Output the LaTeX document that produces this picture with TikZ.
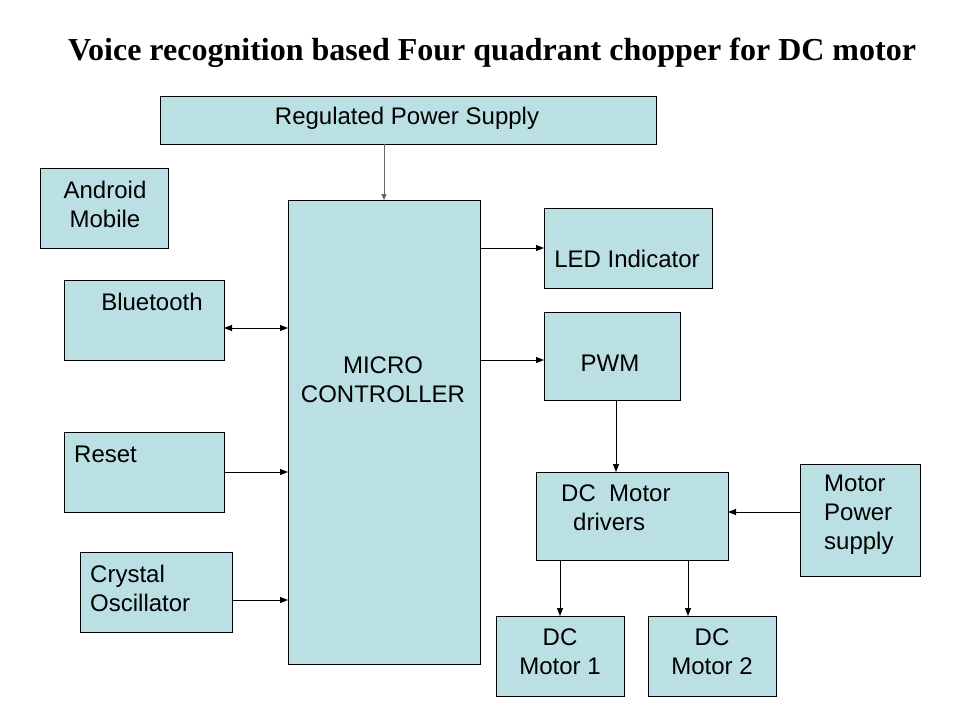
\documentclass[tikz,border=0pt]{standalone}
\usepackage{fontspec}
\setmainfont{Liberation Sans}
\newfontfamily\titlefont{Liberation Serif}
\usetikzlibrary{arrows.meta}
\definecolor{boxfill}{RGB}{187,224,227}
\tikzset{
  blk/.style={draw=black, line width=0.9pt, fill=boxfill, anchor=north west, inner sep=0pt, outer sep=0pt},
  txt/.style={inner sep=0pt, font=\fontsize{24}{29}\selectfont},
  arr/.style={line width=0.9pt, -{Triangle[length=8pt,width=6pt]}},
  arrs/.style={line width=0.9pt, {Triangle[length=8pt,width=6pt]}-{Triangle[length=8pt,width=6pt]}},
  garr/.style={draw=black!60, line width=0.9pt, -{Triangle[length=6pt,width=5pt]}}
}
\begin{document}
\begin{tikzpicture}[x=1pt,y=-1pt]
\path[fill=white, use as bounding box] (0,0) rectangle (960,720);
\node[inner sep=0pt, font=\titlefont\bfseries\fontsize{32}{36}\selectfont] (title) at (492,53) {Voice recognition based Four quadrant chopper for DC motor};

% boxes
\node[blk, minimum width=496pt, minimum height=48pt] (rps) at (160,96) {};
\node[blk, minimum width=128pt, minimum height=80pt] (and) at (40,168) {};
\node[blk, minimum width=160pt, minimum height=80pt] (bt) at (64,280) {};
\node[blk, minimum width=160pt, minimum height=80pt] (rst) at (64,432) {};
\node[blk, minimum width=152pt, minimum height=80pt] (xtal) at (80,552) {};
\node[blk, minimum width=192pt, minimum height=464pt] (mc) at (288,200) {};
\node[blk, minimum width=168pt, minimum height=80pt] (led) at (544,208) {};
\node[blk, minimum width=136pt, minimum height=88pt] (pwm) at (544,312) {};
\node[blk, minimum width=192pt, minimum height=88pt] (drv) at (536,472) {};
\node[blk, minimum width=120pt, minimum height=112pt] (mps) at (800,464) {};
\node[blk, minimum width=128pt, minimum height=80pt] (m1) at (496,616) {};
\node[blk, minimum width=128pt, minimum height=80pt] (m2) at (648,616) {};

% texts
\node[txt] (trps) at (407,118) {Regulated Power Supply};
\node[txt, align=center] (tand) at (105,204) {Android\\Mobile};
\node[txt] (tbt) at (152,302) {Bluetooth};
\node[txt, anchor=west] (trst) at (74,454) {Reset};
\node[txt, anchor=west, align=left] (txtal) at (90,588) {Crystal\\Oscillator};
\node[txt, align=center] (tmc) at (383,380) {MICRO\\CONTROLLER};
\node[txt] (tled) at (627,259) {LED Indicator};
\node[txt] (tpwm) at (610,363) {PWM};
\node[txt, anchor=west, align=left] (tdrv) at (561,508) {DC\ \ Motor\\\hspace*{12pt}drivers};
\node[txt, anchor=west, align=left] (tmps) at (824,515) {Motor\\Power\\supply};
\node[txt, align=center] (tm1) at (560,652) {DC\\Motor 1};
\node[txt, align=center] (tm2) at (712,652) {DC\\Motor 2};

% connectors
\draw[garr] (mc.north |- rps.south) -- (mc.north);
\draw[arrs] (bt.east |- 0,328) -- (mc.west |- 0,328);
\draw[arr] (rst.east |- 0,472) -- (mc.west |- 0,472);
\draw[arr] (xtal.east |- 0,600) -- (mc.west |- 0,600);
\draw[arr] (mc.east |- 0,248) -- (led.west |- 0,248);
\draw[arr] (mc.east |- 0,360) -- (pwm.west |- 0,360);
\draw[arr] (pwm.south -| 616,0) -- (drv.north -| 616,0);
\draw[arr] (mps.west |- 0,512) -- (drv.east |- 0,512);
\draw[arr] (drv.south -| 560,0) -- (m1.north -| 560,0);
\draw[arr] (drv.south -| 688,0) -- (m2.north -| 688,0);
\end{tikzpicture}
\end{document}
